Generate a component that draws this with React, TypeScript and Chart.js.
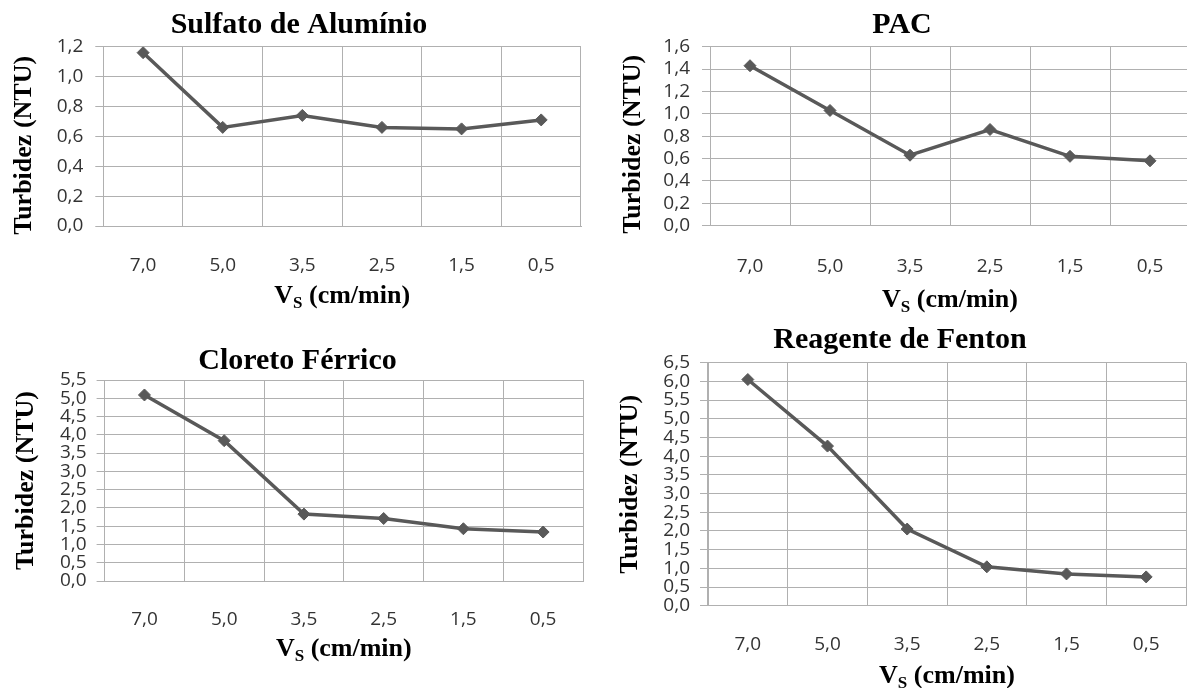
import React, { useEffect, useRef } from 'react';
import { Chart, registerables } from 'chart.js';

Chart.register(...registerables);

// ---- Data ----
const categories = ['7,0', '5,0', '3,5', '2,5', '1,5', '0,5'];
const sulfatoValues = [1.16, 0.66, 0.74, 0.66, 0.65, 0.71];
const pacValues = [1.43, 1.03, 0.63, 0.86, 0.62, 0.58];
const cloretoValues = [5.09, 3.84, 1.83, 1.71, 1.43, 1.34];
const fentonValues = [6.05, 4.27, 2.05, 1.04, 0.85, 0.77];

const chartTitles = ['Sulfato de Alumínio', 'PAC', 'Cloreto Férrico', 'Reagente de Fenton'];
const yMaxValues = [1.2, 1.6, 5.5, 6.5];
const yStepValues = [0.2, 0.2, 0.5, 0.5];
const yAxisTitle = 'Turbidez (NTU)';
const xAxisTitleMain = 'V';
const xAxisTitleSub = 'S';
const xAxisTitleRest = ' (cm/min)';

const seriesList = [sulfatoValues, pacValues, cloretoValues, fentonValues];

// ---- Layout / style ----
const LINE_COLOR = '#595959';
const GRID_COLOR = '#b0b0b0';
const TICK_COLOR = '#333333';
const SERIF = '"Liberation Serif", "Times New Roman", serif';
const SANS = '"Open Sans", "Noto Sans", sans-serif';
const TICK_SIZE = 19;

type Panel = {
  left: number; top: number; width: number; height: number;
  padL: number; padT: number; titlePadB: number;
  yAxisW: number; xAxisH: number;
  yTickPad: number; xTickPad: number;
  yTitleX: number; yTitleShift: number; xTitleDy: number; xTitleShift: number;
};

const panels: Panel[] = [
  { left: 0, top: 0, width: 588, height: 320, padL: 10, padT: 7, titlePadB: 3.7, yAxisW: 93.3, xAxisH: 94, yTickPad: 12, xTickPad: 28.6, yTitleX: 24, yTitleShift: 9, xTitleDy: 69, xTitleShift: 0 },
  { left: 597, top: 0, width: 600, height: 320, padL: 10, padT: 7, titlePadB: 3.7, yAxisW: 103, xAxisH: 94.3, yTickPad: 12, xTickPad: 29.9, yTitleX: 36, yTitleShift: 8, xTitleDy: 73.3, xTitleShift: 0 },
  { left: 0, top: 320, width: 590, height: 368, padL: 5, padT: 23.7, titlePadB: 0.3, yAxisW: 99.6, xAxisH: 107, yTickPad: 10, xTickPad: 27.6, yTitleX: 26, yTitleShift: 0, xTitleDy: 67, xTitleShift: 0 },
  { left: 597, top: 320, width: 596, height: 368, padL: 10, padT: 2.7, titlePadB: 4, yAxisW: 101, xAxisH: 82.3, yTickPad: 10, xTickPad: 27.9, yTitleX: 33, yTitleShift: 0, xTitleDy: 69.3, xTitleShift: 0 },
];

const axisTitlesPlugin = {
  id: 'axisTitles',
  afterDraw(chart: any, _args: any, opts: any) {
    const { ctx, chartArea: ca } = chart;
    // Y axis title (rotated)
    ctx.save();
    ctx.fillStyle = '#000';
    ctx.font = `bold 26px ${SERIF}`;
    ctx.textAlign = 'center';
    ctx.textBaseline = 'middle';
    ctx.translate(opts.yX, (ca.top + ca.bottom) / 2 + opts.yShift);
    ctx.rotate(-Math.PI / 2);
    ctx.fillText(opts.yText, 0, 0);
    ctx.restore();

    // X axis title with subscript
    ctx.save();
    const big = `bold 26px ${SERIF}`;
    const small = `bold 17px ${SERIF}`;
    ctx.font = big;
    const wMain = ctx.measureText(opts.xMain).width;
    const wRest = ctx.measureText(opts.xRest).width;
    ctx.font = small;
    const wSub = ctx.measureText(opts.xSub).width;
    const total = wMain + wSub + wRest;
    let x = (ca.left + ca.right) / 2 - total / 2 + opts.xShift;
    const baseline = ca.bottom + opts.xDy + 8;
    ctx.fillStyle = '#000';
    ctx.textAlign = 'left';
    ctx.textBaseline = 'alphabetic';
    ctx.font = big;
    ctx.fillText(opts.xMain, x, baseline);
    x += wMain;
    ctx.font = small;
    ctx.fillText(opts.xSub, x, baseline + 5);
    x += wSub;
    ctx.font = big;
    ctx.fillText(opts.xRest, x, baseline);
    ctx.restore();
  },
};

function fmt(v: number | string) {
  return Number(v).toFixed(1).replace('.', ',');
}

function ChartPanel({ index }: { index: number }) {
  const ref = useRef<HTMLCanvasElement | null>(null);
  const p = panels[index];

  useEffect(() => {
    if (!ref.current) return;
    const chart = new Chart(ref.current, {
      type: 'line',
      data: {
        labels: categories,
        datasets: [
          {
            data: seriesList[index],
            borderColor: LINE_COLOR,
            backgroundColor: LINE_COLOR,
            borderWidth: 3.5,
            pointStyle: 'rectRot',
            pointRadius: 6,
            pointBorderWidth: 1,
            pointBackgroundColor: LINE_COLOR,
            pointBorderColor: LINE_COLOR,
            tension: 0,
            fill: false,
          },
        ],
      },
      options: {
        responsive: false,
        animation: false,
        devicePixelRatio: 1,
        layout: { padding: { left: p.padL, top: p.padT, right: 0, bottom: 0 } },
        plugins: {
          legend: { display: false },
          tooltip: { enabled: false },
          title: {
            display: true,
            text: chartTitles[index],
            color: '#000',
            font: { family: SERIF, size: 30, weight: 'bold', lineHeight: 1.2 },
            padding: { top: 0, bottom: p.titlePadB },
          },
          axisTitles: {
            yText: yAxisTitle,
            yX: p.yTitleX,
            yShift: p.yTitleShift,
            xMain: xAxisTitleMain,
            xSub: xAxisTitleSub,
            xRest: xAxisTitleRest,
            xDy: p.xTitleDy,
            xShift: p.xTitleShift,
          },
        } as any,
        scales: {
          x: {
            type: 'category',
            offset: true,
            grid: { offset: true, color: GRID_COLOR, lineWidth: 1, drawTicks: false },
            border: { display: true, color: GRID_COLOR },
            ticks: {
              color: TICK_COLOR,
              font: { family: SANS, size: TICK_SIZE },
              padding: p.xTickPad,
              autoSkip: false,
              maxRotation: 0,
            },
            afterFit: (scale: any) => { scale.height = p.xAxisH; },
          },
          y: {
            min: 0,
            max: yMaxValues[index],
            grid: { color: GRID_COLOR, lineWidth: 1, drawTicks: true, tickLength: 8 },
            border: { display: true, color: GRID_COLOR },
            ticks: {
              stepSize: yStepValues[index],
              color: TICK_COLOR,
              font: { family: SANS, size: TICK_SIZE },
              padding: p.yTickPad,
              autoSkip: false,
              callback: (v: any) => fmt(v),
            },
            afterFit: (scale: any) => { scale.width = p.yAxisW; },
          },
        },
      },
      plugins: [axisTitlesPlugin as any],
    });
    return () => chart.destroy();
  }, [index]);

  return (
    <canvas
      ref={ref}
      width={p.width}
      height={p.height}
      style={{ position: 'absolute', left: p.left, top: p.top, width: p.width, height: p.height }}
    />
  );
}

export default function App() {
  return (
    <div
      style={{
        position: 'fixed',
        left: 0,
        top: 0,
        width: 1187,
        height: 688,
        overflow: 'hidden',
        background: '#ffffff',
      }}
    >
      {panels.map((_, i) => (
        <ChartPanel key={i} index={i} />
      ))}
    </div>
  );
}
